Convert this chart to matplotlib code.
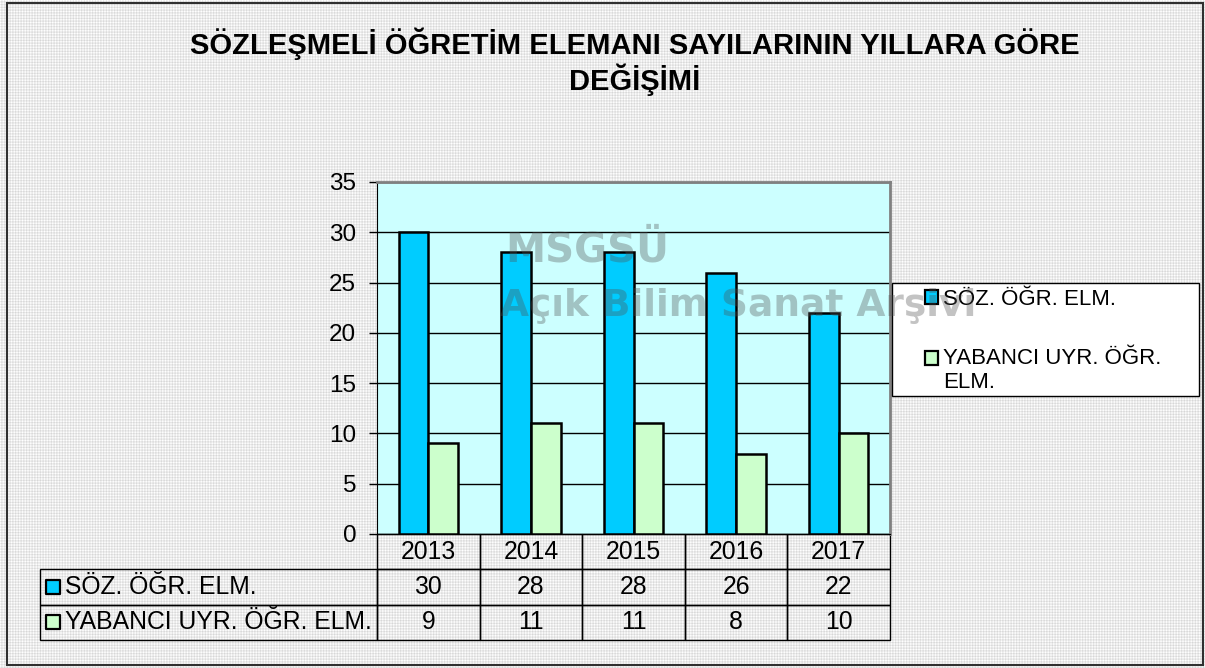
import numpy as np
import matplotlib.pyplot as plt
from matplotlib.patches import Rectangle, Patch
from matplotlib.legend_handler import HandlerPatch
from matplotlib.table import Table

plt.rcParams['font.family'] = ['Liberation Sans', 'DejaVu Sans']

# data
years = ['2013', '2014', '2015', '2016', '2017']
soz_ogr = [30, 28, 28, 26, 22]
yabanci = [9, 11, 11, 8, 10]
series_names = ['SÖZ. ÖĞR. ELM.', 'YABANCI UYR. ÖĞR. ELM.']
legend_names = ['SÖZ. ÖĞR. ELM.', 'YABANCI UYR. ÖĞR.\nELM.']
title = 'SÖZLEŞMELİ ÖĞRETİM ELEMANI SAYILARININ YILLARA GÖRE\nDEĞİŞİMİ'

blue = '#00CCFF'
green = '#CCFFCC'
plot_bg = '#CCFFFF'

W, H = 1205, 668
fig = plt.figure(figsize=(W / 100, H / 100), dpi=100)

# patterned chart background (excel style)
yy, xx = np.mgrid[0:H, 0:W]
p = 5.5
patt = 0.5 * (np.cos(2 * np.pi * (xx + yy) / p) * np.cos(2 * np.pi * (xx - yy) / p)) + 0.5
patt = 0.84 + 0.16 * patt
fig.figimage(patt, cmap='gray', vmin=0, vmax=1, zorder=-10)

# outer border
fig.patches.append(Rectangle((7 / W, 3 / H), (W - 9) / W, (H - 6) / H, transform=fig.transFigure,
                             fill=False, edgecolor='#303030', lw=1.5, zorder=1))

ax = fig.add_axes([377 / W, 1 - 534 / H, (890 - 377) / W, (534 - 182) / H])
ax.set_facecolor(plot_bg)

x = np.arange(len(years))
w = 0.29
b1 = ax.bar(x - w / 2, soz_ogr, w, color=blue, edgecolor='black', lw=1.8, zorder=3)
b2 = ax.bar(x + w / 2, yabanci, w, color=green, edgecolor='black', lw=1.8, zorder=3)

ax.set_xlim(-0.5, len(years) - 0.5)
ax.set_ylim(0, 35)
ax.set_yticks(range(0, 36, 5))
ax.set_xticks([])
ax.yaxis.grid(True, color='black', lw=1)
ax.set_axisbelow(True)
ax.tick_params(axis='y', direction='out', length=6, width=1, pad=9, labelsize=17.5)
for s in ['top', 'right']:
    ax.spines[s].set_color('#808080')
    ax.spines[s].set_linewidth(2)
ax.spines['left'].set_color('black')
ax.spines['bottom'].set_color('black')

# data table under the chart (bbox covers the value cells, row labels sit left of it)
tbl = Table(ax, bbox=[0, -0.301, 1, 0.301])
ch = 0.1
for j, yr in enumerate(years):
    tbl.add_cell(0, j, 0.2, ch, text=yr, loc='center')
for i, (name, vals) in enumerate(zip(series_names, [soz_ogr, yabanci])):
    lab = tbl.add_cell(i + 1, -1, 0.657, ch, text=name, loc='left')
    lab.PAD = 0.075
    for j, v in enumerate(vals):
        tbl.add_cell(i + 1, j, 0.2, ch, text=str(v), loc='center')
tbl.auto_set_font_size(False)
tbl.set_fontsize(17.8)
for cell in tbl.get_celld().values():
    cell.set_facecolor('none')
    cell.set_edgecolor('black')
    cell.set_linewidth(1)
ax.add_table(tbl)

# legend keys in table row labels
ax.scatter([-0.632, -0.632], [-0.151, -0.251], marker='s', s=100,
           c=[blue, green], edgecolors='black', linewidths=1.6,
           transform=ax.transAxes, clip_on=False, zorder=5)


# legend box
def top_line_patch(legend, orig_handle, xdescent, ydescent, width, height, fontsize):
    # key next to the first line of a two-line label
    return Rectangle((-xdescent, -ydescent + 0.55 * fontsize), width, height)


fig.patches.append(Rectangle((892 / W, 1 - 396 / H), (1199 - 892) / W, (396 - 283) / H,
                             transform=fig.transFigure, facecolor='white',
                             edgecolor='black', lw=1, zorder=2))
h1 = Patch(facecolor=blue, edgecolor='black', lw=1.6)
h2 = Patch(facecolor=green, edgecolor='black', lw=1.6)
leg = fig.legend(handles=[h1, h2], labels=legend_names, loc='upper left',
                 bbox_to_anchor=(925 / W, 1 - 289 / H), frameon=False,
                 fontsize=16, handlelength=0.6, handleheight=0.6,
                 handletextpad=0.2, labelspacing=1.7, borderpad=0, borderaxespad=0,
                 handler_map={h2: HandlerPatch(patch_func=top_line_patch)})
leg.set_zorder(3)

fig.text(635 / W, 1 - 62 / H, title, ha='center', va='center', fontsize=21,
         fontweight='bold', linespacing=1.15)

# watermark
fig.text(505 / W, 1 - 250 / H, 'MSGSÜ', fontsize=29, fontweight='bold', color='#505050',
         alpha=0.34, va='center', ha='left', family='DejaVu Sans', zorder=10)
fig.text(500 / W, 1 - 306 / H, 'Açık Bilim Sanat Arşivi', fontsize=27, fontweight='bold',
         color='#505050', alpha=0.34, va='center', ha='left', family='DejaVu Sans', zorder=10)

fig.savefig('out.png', dpi=100)
